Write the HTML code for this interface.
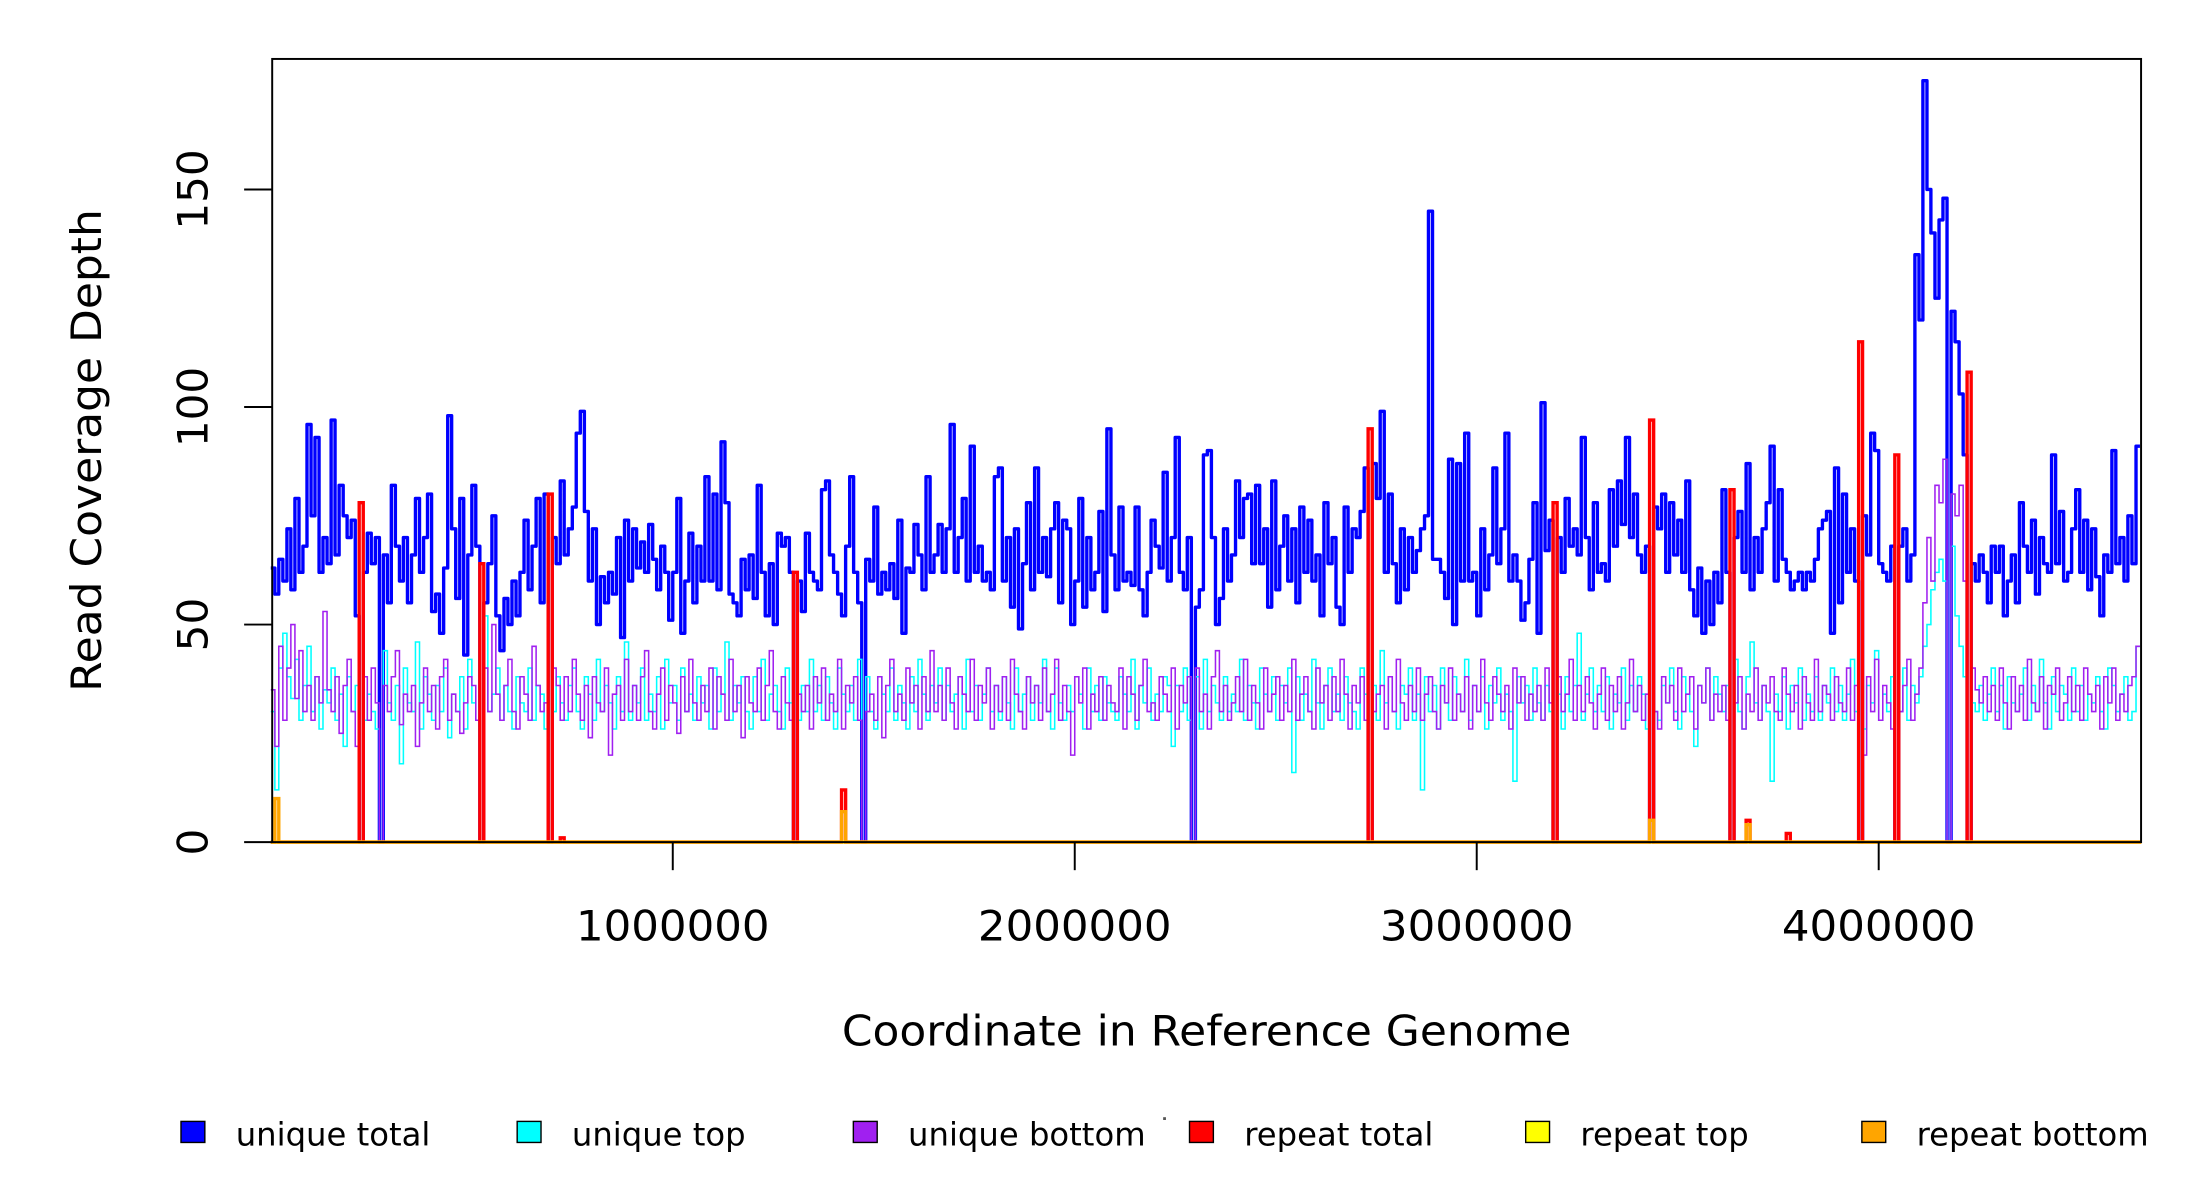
<!DOCTYPE html>
<html><head><meta charset="utf-8"><style>
html,body{margin:0;padding:0;background:#fff;width:2200px;height:1200px;overflow:hidden}
svg{display:block}
text{font-family:"DejaVu Sans","Liberation Sans",sans-serif;fill:#000}
</style></head><body>
<svg id="chart" width="2200" height="1200" viewBox="0 0 1568 855" preserveAspectRatio="none" xmlns="http://www.w3.org/2000/svg">
<g id="marks"></g>
<rect x="194" y="42" width="1332" height="558" fill="none" stroke="#000" stroke-width="1.4"/>
<g id="axes"></g>
<text transform="translate(72,321) rotate(-90)" text-anchor="middle" font-size="30" textLength="344" lengthAdjust="spacingAndGlyphs">Read Coverage Depth</text>
<text x="860" y="745" text-anchor="middle" font-size="30" textLength="520" lengthAdjust="spacingAndGlyphs">Coordinate in Reference Genome</text>
<g id="legend"></g>
<rect x="829" y="796" width="2" height="2" fill="#555"/>
</svg>
<script>
const binSize = 10000;
const xTicks = [1000000, 2000000, 3000000, 4000000];
const yTicks = [0, 50, 100, 150];
const uniqueTotal = [63,57,65,60,72,58,79,62,68,96,75,93,62,70,64,97,66,82,75,70,74,52,55,62,71,64,70,56,66,55,82,68,60,70,55,66,79,62,70,80,53,57,48,63,98,72,56,79,43,66,82,68,58,55,64,75,52,44,56,50,60,52,62,74,58,68,79,55,80,62,70,64,83,66,72,77,94,99,76,60,72,50,61,55,62,57,70,47,74,60,72,63,69,62,73,65,58,68,62,51,62,79,48,60,71,55,68,60,84,60,80,58,92,78,57,55,52,65,58,66,56,82,62,52,64,50,71,68,70,62,41,60,53,71,62,60,58,81,83,66,62,57,52,68,84,62,55,52,65,60,77,57,62,58,64,56,74,48,63,62,73,66,58,84,62,66,73,62,72,96,62,70,79,60,91,62,68,60,62,58,84,86,60,70,54,72,49,64,78,58,86,62,70,61,72,78,55,74,72,50,60,79,54,70,58,62,76,53,95,66,58,77,60,62,59,77,58,52,62,74,68,63,85,60,70,93,62,58,70,62,54,58,89,90,70,50,56,72,60,66,83,70,79,80,64,82,64,72,54,83,58,68,75,60,72,55,77,62,74,60,66,52,78,64,70,54,50,77,62,72,70,76,86,72,87,79,99,62,80,64,55,72,58,70,62,67,72,75,145,65,65,62,56,88,50,87,60,94,60,62,52,72,58,66,86,64,72,94,60,66,60,51,55,65,78,48,101,67,74,100,70,62,79,68,72,66,93,70,58,78,62,64,60,81,68,83,73,93,70,80,66,62,68,60,77,72,80,62,78,66,74,62,83,58,52,63,48,60,50,62,55,81,62,48,70,76,62,87,58,70,62,72,78,91,60,81,65,62,58,60,62,58,62,60,65,72,74,76,48,86,55,80,62,72,60,83,75,66,94,90,64,62,60,68,67,68,72,60,66,135,120,175,150,140,125,143,148,131,122,115,103,89,70,64,60,66,62,55,68,62,68,52,60,66,55,78,68,62,74,57,70,64,62,89,64,76,60,62,72,81,62,74,58,72,61,52,66,62,90,64,70,60,75,64,91];
const uniqueTop = [30,12,40,48,38,33,42,28,36,45,30,38,26,35,32,40,28,34,22,38,30,36,42,28,34,30,26,38,44,32,28,36,18,40,32,30,46,26,38,34,28,36,30,40,24,34,30,38,26,42,32,28,36,52,30,34,40,28,36,30,26,38,32,30,40,28,36,34,26,42,30,38,32,28,36,40,30,26,38,34,28,42,30,36,32,26,38,30,46,28,36,32,40,28,34,30,38,26,42,32,36,28,40,30,34,28,38,32,36,26,40,30,34,46,28,36,32,38,30,26,38,30,42,28,34,36,30,26,40,32,38,28,36,30,42,30,36,28,38,32,26,40,34,30,36,28,42,32,38,30,26,38,34,30,40,28,36,32,26,38,30,42,34,28,36,32,40,28,36,30,34,38,26,42,30,36,28,34,40,30,36,28,38,32,26,40,30,34,38,28,36,32,42,30,26,40,32,28,36,30,38,34,26,40,30,36,28,38,32,30,28,38,34,30,42,26,36,32,40,28,34,30,38,36,22,36,30,40,28,34,38,26,42,30,36,32,28,38,30,34,30,42,28,36,32,26,40,34,30,38,28,36,32,40,16,38,28,34,30,42,32,26,36,40,30,34,28,38,32,30,26,40,34,30,36,28,44,32,38,30,26,36,34,40,28,34,12,38,30,36,26,40,32,28,38,34,30,42,28,36,30,38,26,36,32,40,28,34,30,14,38,32,36,28,40,32,28,36,30,42,34,26,38,30,36,48,28,34,40,30,36,30,38,26,34,32,40,28,36,30,38,34,26,42,30,28,36,32,40,30,26,38,34,30,22,36,32,40,28,38,34,30,36,28,42,30,26,38,46,32,28,36,30,14,34,30,38,26,36,32,40,28,34,30,38,28,36,32,40,30,36,28,34,42,30,38,26,36,32,44,28,34,30,38,36,30,40,28,36,32,38,45,50,58,62,65,60,55,68,52,45,38,40,32,30,36,28,34,40,30,36,26,38,32,30,34,40,28,36,30,42,32,26,38,30,36,34,28,40,30,36,28,34,32,38,30,26,40,36,30,34,38,28,30,45];
const uniqueBottom = [35,22,45,28,40,50,33,44,30,36,28,38,32,53,35,30,38,25,36,42,30,22,34,38,28,40,32,26,36,30,38,44,27,34,30,36,22,32,40,30,36,26,38,42,28,34,30,25,32,38,36,28,33,40,30,50,34,28,36,42,30,26,38,34,28,45,36,30,32,26,40,36,28,38,30,42,34,28,36,24,38,32,30,40,20,34,36,28,42,30,36,28,38,44,30,26,34,40,28,36,32,25,38,30,42,32,28,36,30,40,26,38,34,28,42,30,36,24,38,32,30,40,28,36,44,30,26,38,32,28,42,34,30,36,26,38,32,40,28,34,30,42,26,36,32,38,28,40,30,34,28,38,24,36,42,30,34,28,40,32,36,26,38,30,44,30,36,28,40,32,26,38,34,30,42,28,36,32,40,26,36,30,38,28,42,34,30,26,38,32,36,28,40,30,34,42,28,36,30,20,38,32,40,26,34,30,38,28,36,32,30,40,26,38,34,28,36,42,30,32,28,38,34,30,40,26,36,32,38,28,40,30,34,26,38,44,30,36,28,32,38,30,42,28,36,32,26,40,30,34,38,28,36,30,42,28,34,38,30,26,40,32,36,28,38,30,42,34,26,36,32,38,28,40,30,34,36,26,38,30,42,32,28,36,30,40,28,34,38,30,26,36,32,40,28,34,30,38,26,36,30,42,32,28,38,34,30,36,26,40,32,38,28,34,30,36,28,40,32,26,38,30,34,42,28,36,30,38,32,26,34,40,28,36,30,38,26,32,42,30,36,28,34,38,30,26,38,32,36,28,40,30,34,38,26,36,32,40,28,34,30,36,28,42,32,38,26,34,30,40,28,36,32,38,30,28,40,34,30,36,26,38,32,28,42,30,36,34,28,38,32,30,40,28,36,34,20,38,30,42,28,36,32,26,38,30,36,42,28,34,40,55,70,60,82,78,88,72,80,75,82,60,70,40,35,32,38,30,36,28,40,32,26,38,30,36,28,42,32,30,38,26,36,34,40,28,32,38,30,36,28,40,34,30,36,26,38,32,40,28,34,30,36,38,45];
const dropoutCoords = [226000,271000,526000,690000,1303000,1474000,2293000,2736000,3196000,3436000,3631000,3955000,4046000,4178000,4220000];
const repeatTotalCoords = [226000,526000,690000,729000,1303000,1425000,2736000,3196000,3436000,3631000,3672000,3777000,3955000,4046000,4220000];
const repeatTotalValues = [78,64,80,1,62,12,95,78,97,81,5,2,115,89,108];
const repeatBottomCoords = [10000,1425000,3436000,3672000];
const repeatBottomValues = [10,7,5,4];
const legendLabels = ["unique total","unique top","unique bottom","repeat total","repeat top","repeat bottom"];
const legendColors = ["#0000ff","#00ffff","#a020f0","#ff0000","#ffff00","#ffa500"];

const NS = "http://www.w3.org/2000/svg";
const X0 = 193, XPER = 286.5/1e6, Y0 = 600, YPER = 3.1;
const xMax = 4653000;
function xs(c){ return X0 + c*XPER; }
function ys(v){ return Y0 - v*YPER; }
function mk(tag, attrs, parent){ const e=document.createElementNS(NS,tag); for(const k in attrs) e.setAttribute(k,attrs[k]); parent.appendChild(e); return e; }

const SUB = 10000;
const nSub = Math.ceil(xMax/SUB);
function expand(arr){ const out=[]; arr.forEach(v=>{ for(let i=0;i<binSize/SUB;i++) out.push(v); }); return out.slice(0,nSub); }
function applyPoints(sub, coords, vals){ coords.forEach((c,i)=>{ const k=Math.floor(c/SUB); if(k<sub.length) sub[k]=vals[i]; }); }
function applyDrops(sub){ dropoutCoords.forEach(c=>{ const k=Math.floor(c/SUB); if(k<sub.length) sub[k]=0; }); }
function stepPath(sub){
  let d="";
  sub.forEach((v,i)=>{ const xa=xs(Math.min(i*SUB,xMax)), xb=xs(Math.min((i+1)*SUB,xMax)); const y=ys(v).toFixed(1);
    d += (i===0? "M"+xa.toFixed(1)+","+y : "L"+xa.toFixed(1)+","+y) + "L"+xb.toFixed(1)+","+y; });
  return d;
}
function sparse(coords, vals){ const s=new Array(nSub).fill(0); applyPoints(s,coords,vals); return s; }

const marks = document.getElementById("marks");
const totalSub = expand(uniqueTotal); applyDrops(totalSub);
const topSub = expand(uniqueTop); applyDrops(topSub);
const botSub = expand(uniqueBottom); applyDrops(botSub);

const pTotal = mk("path",{d:stepPath(totalSub),fill:"none",stroke:"#0000ff","stroke-width":"2.4","stroke-linejoin":"round"},marks);


const pTop = mk("path",{d:stepPath(topSub),fill:"none",stroke:"#00ffff","stroke-width":"1.1"},marks);


const pBot = mk("path",{d:stepPath(botSub),fill:"none",stroke:"#a020f0","stroke-width":"1.1"},marks);


const pRep = mk("path",{d:stepPath(sparse(repeatTotalCoords,repeatTotalValues)),fill:"none",stroke:"#ff0000","stroke-width":"2.4"},marks);


const pRepTop = mk("path",{d:stepPath(new Array(nSub).fill(0)),fill:"none",stroke:"#ffff00","stroke-width":"2.4"},marks);


const pRepBot = mk("path",{d:stepPath(sparse(repeatBottomCoords,repeatBottomValues)),fill:"none",stroke:"#ffa500","stroke-width":"2.4"},marks);



const axes = document.getElementById("axes");
xTicks.forEach(t=>{
  const l = mk("line",{x1:xs(t),x2:xs(t),y1:600,y2:620,stroke:"#000","stroke-width":"1.4"},axes);
  
  
  const tx = mk("text",{x:xs(t),y:670,"text-anchor":"middle","font-size":"30",textLength:"138",lengthAdjust:"spacingAndGlyphs"},axes);
  tx.textContent = String(t);
  
  
});
yTicks.forEach(t=>{
  const l = mk("line",{x1:174,x2:194,y1:ys(t),y2:ys(t),stroke:"#000","stroke-width":"1.4"},axes);
  
  
  const tx = mk("text",{transform:"translate(148,"+ys(t)+") rotate(-90)","text-anchor":"middle","font-size":"30"},axes);
  tx.textContent = String(t);
  
  
});

const legend = document.getElementById("legend");
legendLabels.forEach((lab,i)=>{
  const bx = 129 + i*239.6;
  const r = mk("rect",{x:bx,y:799,width:17,height:15,fill:legendColors[i],stroke:"#000","stroke-width":"1"},legend);
  
  
  const t = mk("text",{x:bx+39,y:816,"font-size":"23"},legend);
  t.textContent = lab;
  
  
});
</script>
</body></html>
